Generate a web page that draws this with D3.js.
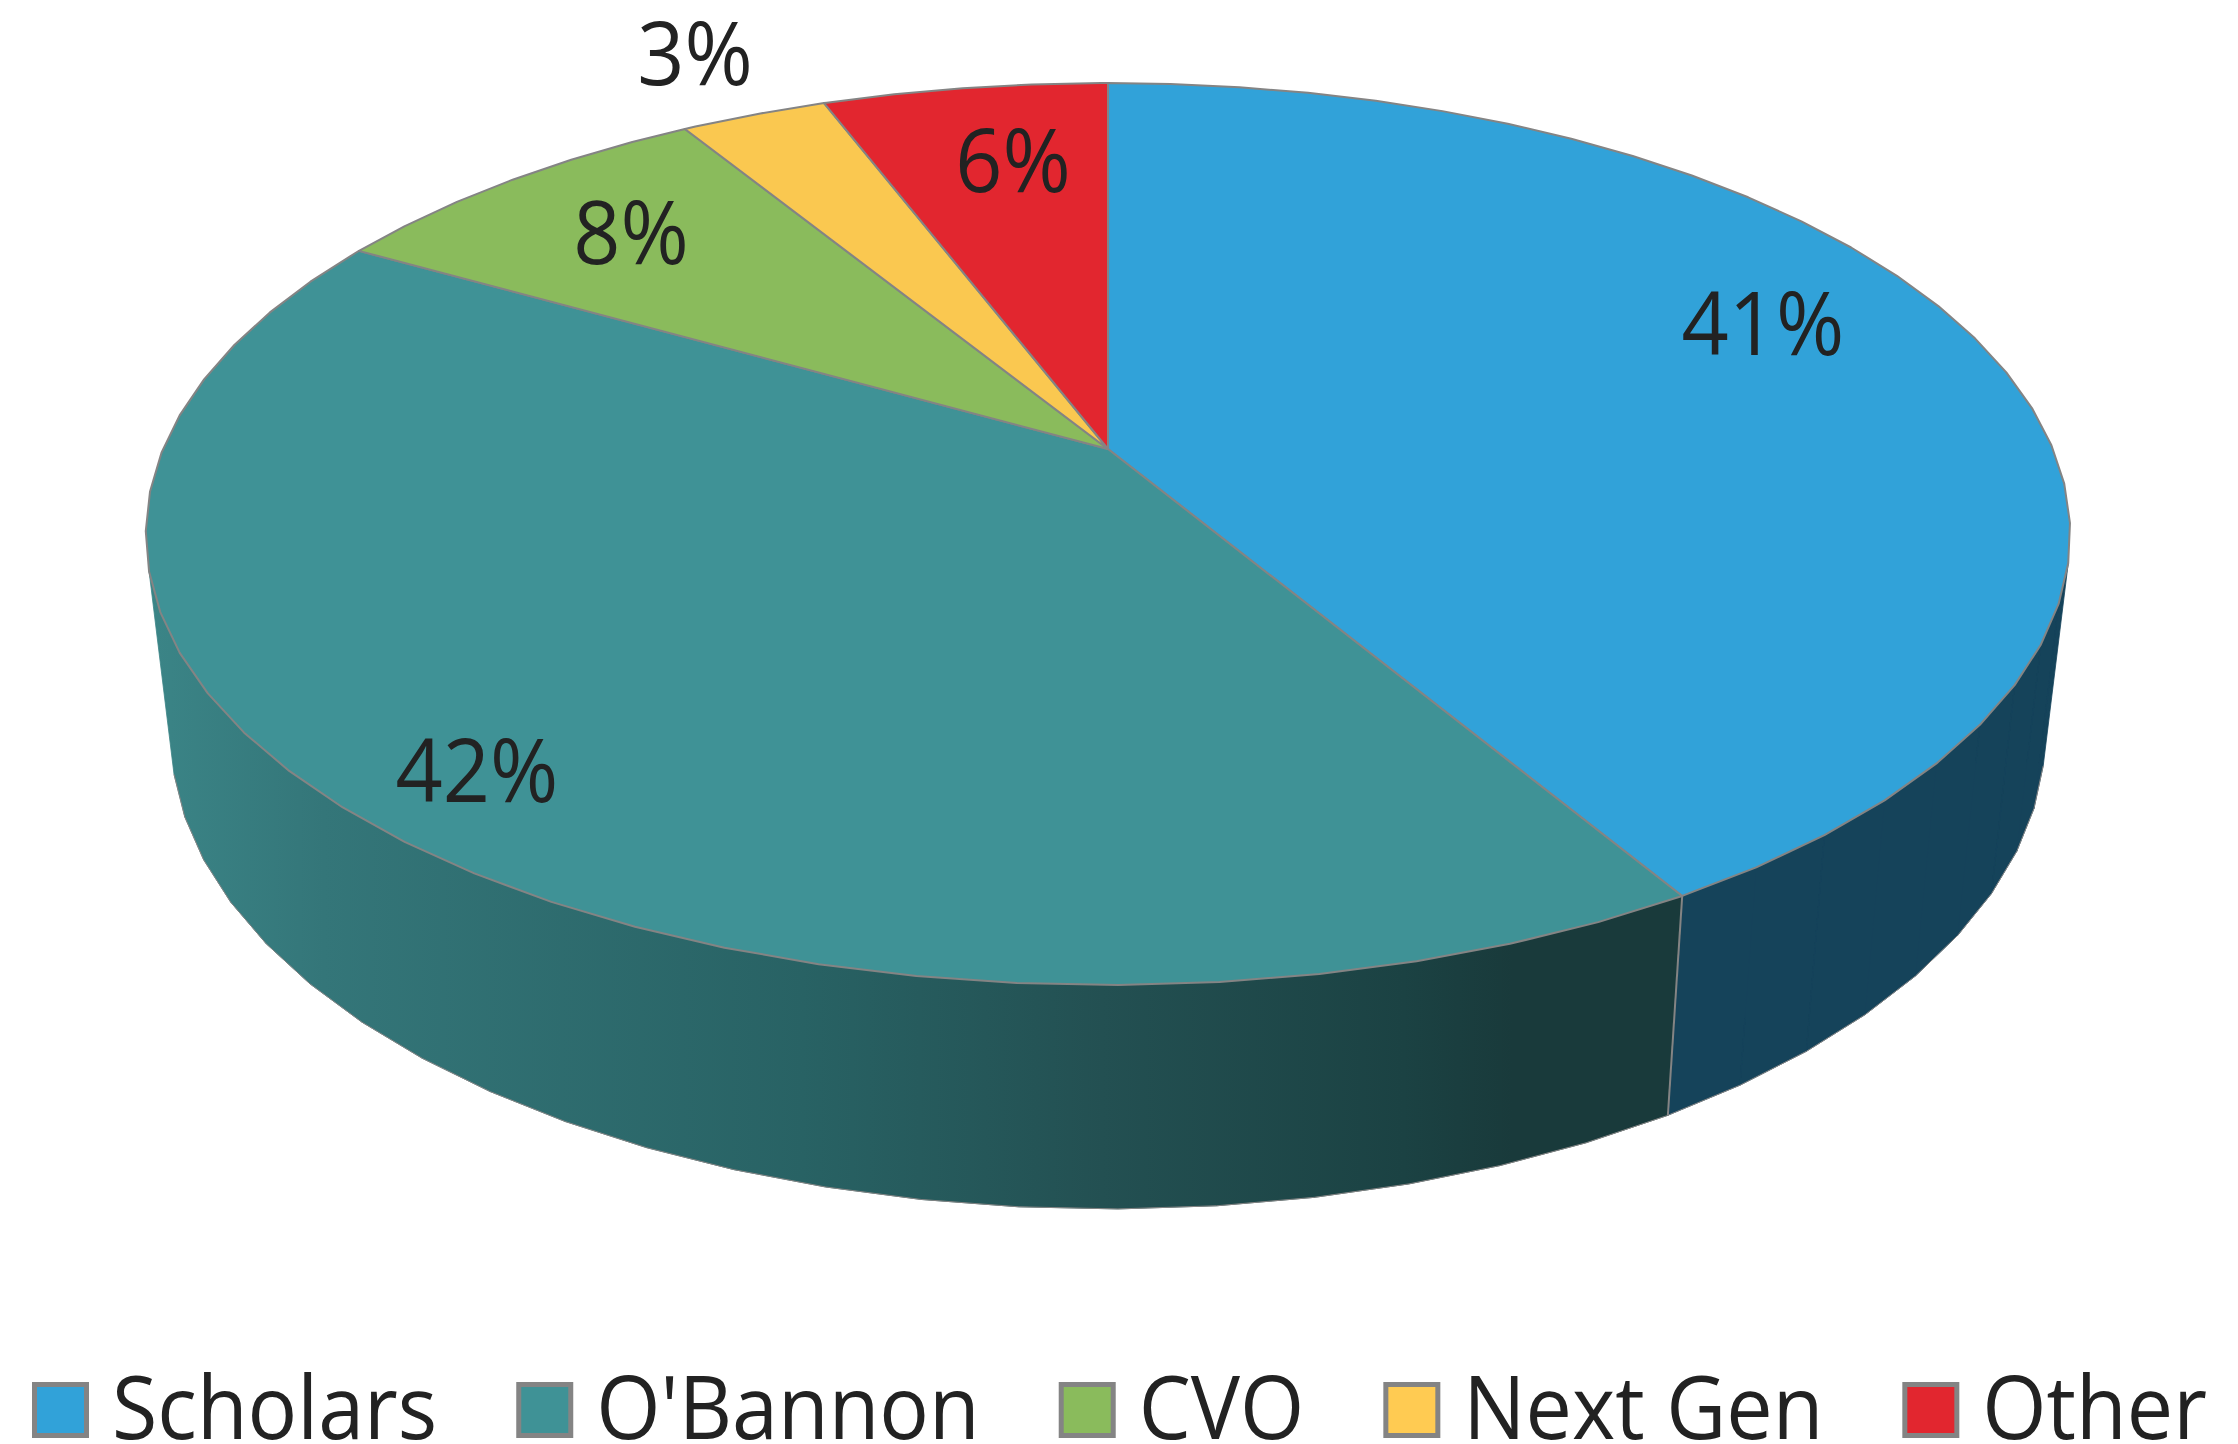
<!DOCTYPE html>
<html>
<head>
<meta charset="utf-8">
<script src="https://cdn.jsdelivr.net/npm/d3@7"></script>
<style>
html, body { margin: 0; background: #fff; }
text { font-family: "Open Sans", sans-serif; fill: #222; }
</style>
</head>
<body>
<div id="chart"></div>
<script>
//data
var categories = ['Scholars', "O'Bannon", 'CVO', 'Next Gen', 'Other'];
var shares = [41.5, 41.8, 8.0, 2.95, 5.75];
var shareLabels = ['41%', '42%', '8%', '3%', '6%'];

//colours
var topColors = ['#31a2d9', '#3f9296', '#8abb5c', '#fac850', '#e2262f'];
var legendColors = ['#31a2d9', '#3f9296', '#8abb5c', '#ffcb52', '#e2262f'];
var wallColors = ['#15435a', 'url(#obannon-wall)', '#4f7236', '#a07f30', '#8c171d'];
var edgeColor = '#848484';

//sizes
var width = 2238,
    height = 1444;

//perspective of the two discs
var topDisc = { x: 1108, y: 449, a: 945, b: 435, p: 0.1885 },
    bottomDisc = { x: 1108, y: 646, a: 920, b: 456, p: 0.19 };

var fontSize = 87,
    textSqueeze = 0.95;

//label centres, same order as categories
var labelCenters = [[1763, 324], [477, 771], [631, 233], [695, 54], [1013, 161]];

var svg = d3.select('#chart').append('svg')
    .attr('width', width)
    .attr('height', height)
    .style('display', 'block');

var grad = svg.append('defs').append('linearGradient')
    .attr('id', 'obannon-wall')
    .attr('gradientUnits', 'userSpaceOnUse')
    .attr('x1', 146).attr('x2', 1513)
    .attr('y1', 0).attr('y2', 0);
grad.append('stop').attr('offset', 0).attr('stop-color', '#3b8587');
grad.append('stop').attr('offset', 0.13).attr('stop-color', '#347679');
grad.append('stop').attr('offset', 0.48).attr('stop-color', '#286264');
grad.append('stop').attr('offset', 0.7).attr('stop-color', '#235052');
grad.append('stop').attr('offset', 0.92).attr('stop-color', '#1b4243');
grad.append('stop').attr('offset', 1).attr('stop-color', '#193a3b');

function discPoint(disc, a) {
    var w = 1 + disc.p * Math.cos(a);
    return [disc.x + disc.a * Math.sin(a) / w, disc.y - disc.b * Math.cos(a) / w];
}

function topPoint(a) { return discPoint(topDisc, a); }
function bottomPoint(a) { return discPoint(bottomDisc, a); }

var slices = d3.pie().sort(null).value(function(d) { return d; })(shares);
var line = d3.line();

//the outline of the original is a coarse polygon, one vertex every 5 degrees
var gridAngles = d3.range(72).map(function(k) {
    return (5 * k + 4.5) * Math.PI / 180;
});

function arcAngles(d) {
    var inside = gridAngles.filter(function(a) {
        return a > d.startAngle && a < d.endAngle;
    });
    return [d.startAngle].concat(inside, [d.endAngle]);
}

//walls, only the quads that face the viewer
var walls = svg.append('g').attr('class', 'walls');

slices.forEach(function(d, i) {
    var quads = '',
        rim = '';
    d3.pairs(arcAngles(d)).forEach(function(pair) {
        var quad = [topPoint(pair[0]), topPoint(pair[1]), bottomPoint(pair[1]), bottomPoint(pair[0])];
        if (d3.polygonArea(quad) > 0) {
            quads += line(quad) + 'Z';
            rim += line([quad[2], quad[3]]);
        }
    });
    walls.append('path')
        .attr('d', quads)
        .attr('fill', wallColors[i])
        .attr('stroke', wallColors[i])
        .attr('stroke-width', 0.8);
    walls.append('path')
        .attr('d', rim)
        .attr('fill', 'none')
        .attr('stroke', edgeColor)
        .attr('stroke-width', 1);
});

//seams on the wall, where the top edge is in front
slices.forEach(function(d) {
    var a = d.endAngle;
    if (Math.cos(a) < -0.3) {
        walls.append('path')
            .attr('d', line([topPoint(a), bottomPoint(a)]))
            .attr('fill', 'none')
            .attr('stroke', edgeColor)
            .attr('stroke-width', 2);
    }
});

//top of the pie
svg.append('g').attr('class', 'top')
    .selectAll('path')
    .data(slices)
    .enter().append('path')
    .attr('d', function(d) {
        return line([[topDisc.x, topDisc.y]].concat(arcAngles(d).map(topPoint))) + 'Z';
    })
    .attr('fill', function(d, i) { return topColors[i]; })
    .attr('stroke', edgeColor)
    .attr('stroke-width', 2)
    .attr('stroke-linejoin', 'round');

//value labels
svg.append('g').attr('class', 'labels')
    .selectAll('text')
    .data(shareLabels)
    .enter().append('text')
    .attr('transform', function(d, i) {
        return 'translate(' + labelCenters[i][0] + ',' + labelCenters[i][1] + ') scale(' + textSqueeze + ',1)';
    })
    .attr('text-anchor', 'middle')
    .attr('dy', fontSize * 0.357)
    .style('font-size', fontSize + 'px')
    .text(function(d) { return d; });

//legend, laid out from the text widths
var legendX = 32,
    legendY = 1382,
    swatchW = 57,
    swatchH = 56,
    swatchToText = 80,
    textToSwatch = 79,
    legendBase = 1439;

var legend = svg.append('g').attr('class', 'legend');

categories.forEach(function(name, i) {
    legend.append('rect')
        .attr('x', legendX + 2.5)
        .attr('y', legendY + 2.5)
        .attr('width', swatchW - 5)
        .attr('height', swatchH - 5)
        .attr('fill', legendColors[i])
        .attr('stroke', edgeColor)
        .attr('stroke-width', 5);

    var label = legend.append('text')
        .attr('transform', 'translate(' + (legendX + swatchToText) + ',' + legendBase + ') scale(' + textSqueeze + ',1)')
        .style('font-size', fontSize + 'px')
        .text(name);

    legendX += swatchToText + label.node().getComputedTextLength() * textSqueeze + textToSwatch;
});
</script>
</body>
</html>
